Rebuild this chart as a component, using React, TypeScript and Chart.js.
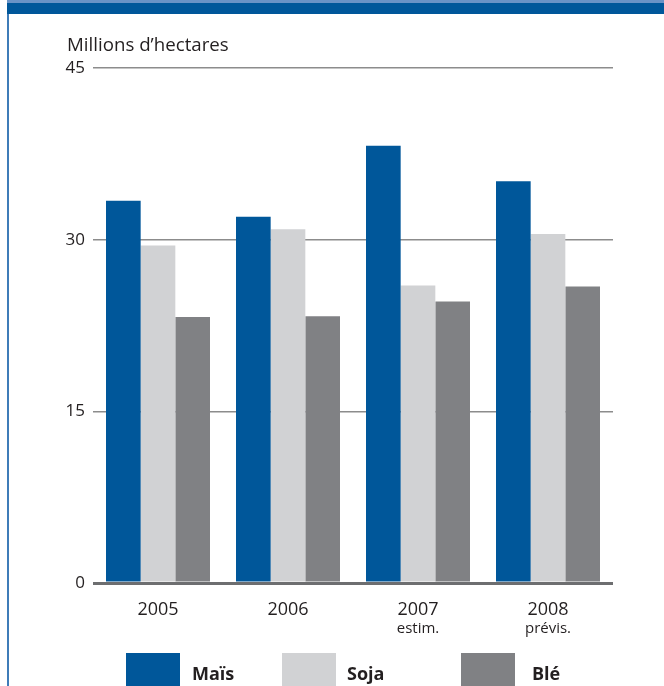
import React, { useEffect, useRef } from "react";
import { Chart, registerables } from "chart.js";

Chart.register(...registerables);

const categories = ["2005", "2006", "2007", "2008"];
const subLabels = ["", "", "estim.", "prévis."];
const seriesNames = ["Maïs", "Soja", "Blé"];
const mais = [33.4, 32.0, 38.2, 35.1];
const soja = [29.5, 30.9, 26.0, 30.5];
const ble = [23.25, 23.3, 24.6, 25.9];
const yTicks = [0, 15, 30, 45];
const yTitle = "Millions d’hectares";

const COLORS = ["#00579a", "#d1d2d4", "#808184"];
const TEXT = "#231f20";
const FONT = '"Open Sans", "Noto Sans", sans-serif';
const LEGEND_BOX_X = [126, 282, 461];
const LEGEND_TEXT_X = [192, 347, 532];

export default function App() {
  const ref = useRef<HTMLCanvasElement | null>(null);

  useEffect(() => {
    if (!ref.current) return;
    const extras = {
      id: "extras",
      afterDraw(chart: any) {
        const ctx = chart.ctx;
        ctx.save();
        ctx.fillStyle = TEXT;
        ctx.font = `18.7px ${FONT}`;
        ctx.textAlign = "left";
        ctx.textBaseline = "alphabetic";
        ctx.fillText(yTitle, 67, 51);
        const xs = chart.scales.x;
        ctx.font = `15px ${FONT}`;
        ctx.textAlign = "center";
        ctx.textBaseline = "middle";
        subLabels.forEach((s, i) => {
          if (s) ctx.fillText(s, xs.getPixelForValue(i), 629);
        });
        chart.data.datasets.forEach((ds: any, i: number) => {
          ctx.fillStyle = ds.backgroundColor;
          ctx.fillRect(LEGEND_BOX_X[i], 653, 54, 40);
          ctx.fillStyle = TEXT;
          ctx.font = `bold 18px ${FONT}`;
          ctx.textAlign = "left";
          ctx.textBaseline = "alphabetic";
          ctx.fillText(ds.label, LEGEND_TEXT_X[i], 680);
        });
        ctx.restore();
      },
    };
    const series = [mais, soja, ble];
    const chart = new Chart(ref.current, {
      type: "bar",
      data: {
        labels: categories,
        datasets: series.map((d, i) => ({
          label: seriesNames[i],
          data: d,
          backgroundColor: COLORS[i],
          borderWidth: 0,
          barPercentage: 1.0,
          categoryPercentage: 0.8,
        })),
      },
      options: {
        responsive: false,
        animation: false,
        layout: { padding: { left: 0, right: 51, top: 68, bottom: 0 } },
        plugins: {
          legend: { display: false },
          tooltip: { enabled: false },
          title: { display: false },
        },
        scales: {
          x: {
            offset: true,
            grid: { display: false, drawTicks: false },
            border: { display: false },
            ticks: {
              color: TEXT,
              font: { family: FONT, size: 18 },
              padding: 16,
              maxRotation: 0,
            },
            afterFit(s: any) {
              s.height = 103;
            },
          },
          y: {
            min: 0,
            max: 45,
            afterBuildTicks(s: any) {
              s.ticks = yTicks.map((v) => ({ value: v }));
            },
            grid: {
              drawTicks: false,
              color: (c: any) => (c.tick && c.tick.value === 0 ? "#6d6e70" : "#8c8c8c"),
              lineWidth: (c: any) => (c.tick && c.tick.value === 0 ? 3 : 1.5),
            },
            border: { display: false },
            ticks: {
              color: TEXT,
              font: { family: FONT, size: 17 },
              padding: 8,
            },
            afterFit(s: any) {
              s.width = 93;
            },
          },
        },
      },
      plugins: [extras],
    });
    return () => chart.destroy();
  }, []);

  return (
    <div
      style={{
        position: "fixed",
        left: 0,
        top: 0,
        width: 664,
        height: 686,
        overflow: "hidden",
        background: "#fff",
      }}
    >
      <div
        style={{
          position: "absolute",
          left: 7,
          top: 0,
          width: 657,
          height: 11,
          background: "#00579a",
          borderTop: "3px solid #6a93c6",
        }}
      />
      <div
        style={{
          position: "absolute",
          left: 7,
          top: 14,
          width: 2,
          height: 672,
          background: "#3f7cb8",
        }}
      />
      <canvas
        ref={ref}
        width={664}
        height={686}
        style={{ position: "absolute", left: 0, top: 0, display: "block" }}
      />
    </div>
  );
}
